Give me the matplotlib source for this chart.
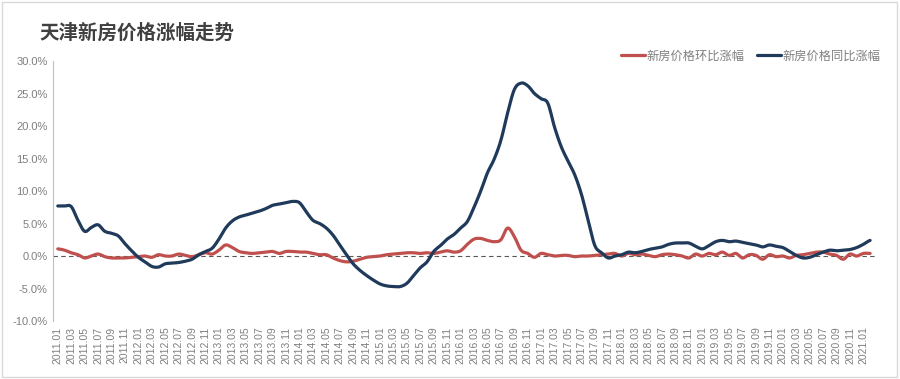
import numpy as np
import pandas as pd
import matplotlib.pyplot as plt
from matplotlib.patches import Rectangle

plt.rcParams['font.family'] = ['Liberation Sans', 'Noto Sans CJK SC', 'DejaVu Sans']

# === 数据 (%) ===
months = [p.strftime('%Y.%m') for p in pd.period_range('2011-01', '2021-02', freq='M')]

yoy = [7.7, 7.7, 7.6, 5.5, 3.8, 4.4, 4.8, 3.8, 3.5, 3.1,
       1.9, 0.8, -0.2, -0.9, -1.6, -1.7, -1.2, -1.1, -1.0, -0.8,
       -0.5, 0.2, 0.7, 1.2, 2.6, 4.3, 5.4, 6.0, 6.3, 6.6,
       6.9, 7.3, 7.8, 8.0, 8.2, 8.4, 8.2, 6.8, 5.5, 5.0,
       4.3, 3.2, 1.7, 0.2, -1.2, -2.2, -3.0, -3.7, -4.3, -4.6,
       -4.7, -4.7, -4.2, -3.0, -1.8, -0.9, 0.7, 1.6, 2.6, 3.3,
       4.3, 5.3, 7.5, 10.0, 12.8, 14.9, 17.8, 22.0, 25.6, 26.6,
       26.2, 25.0, 24.2, 23.5, 19.8, 16.8, 14.6, 12.5, 9.5, 5.5,
       1.6, 0.5, -0.3, 0.0, 0.2, 0.6, 0.5, 0.7, 1.0, 1.2,
       1.4, 1.8, 2.0, 2.0, 2.0, 1.5, 1.1, 1.6, 2.2, 2.4,
       2.2, 2.3, 2.1, 1.9, 1.7, 1.4, 1.7, 1.5, 1.3, 0.7,
       0.1, -0.3, -0.2, 0.2, 0.6, 0.9, 0.8, 0.9, 1.0, 1.3,
       1.8, 2.4]

mom = [1.1, 0.9, 0.5, 0.2, -0.3, 0.0, 0.3, -0.1, -0.3, -0.3,
       -0.3, -0.2, -0.1, 0.0, -0.2, 0.2, 0.0, 0.0, 0.3, 0.1,
       -0.1, 0.2, 0.5, 0.3, 0.9, 1.7, 1.3, 0.7, 0.5, 0.4,
       0.5, 0.6, 0.7, 0.4, 0.7, 0.7, 0.6, 0.6, 0.4, 0.2,
       0.2, -0.3, -0.7, -0.9, -0.8, -0.5, -0.2, -0.1, 0.0, 0.2,
       0.3, 0.4, 0.5, 0.5, 0.4, 0.5, 0.4, 0.6, 0.8, 0.6,
       0.8, 1.8, 2.6, 2.7, 2.4, 2.2, 2.5, 4.3, 3.0, 0.9,
       0.4, -0.2, 0.4, 0.2, 0.0, 0.1, 0.1, -0.1, 0.0, 0.0,
       0.1, 0.2, 0.3, 0.4, 0.0, 0.4, 0.2, 0.3, 0.1, -0.1,
       0.2, 0.3, 0.2, 0.0, -0.3, 0.3, 0.0, 0.4, 0.2, 0.6,
       0.1, 0.4, -0.3, 0.2, 0.1, -0.5, 0.2, -0.1, 0.0, -0.3,
       0.1, 0.2, 0.4, 0.6, 0.6, 0.3, 0.1, -0.5, 0.3, 0.0,
       0.4, 0.4]

title = "天津新房价格涨幅走势"
label_mom = "新房价格环比涨幅"
label_yoy = "新房价格同比涨幅"

red = '#C0504D'
navy = '#1F3A5A'
gray = '#7F7F7F'


# === Excel-agtig udglatning (Catmull-Rom) til tegning ===
def smooth(y, n=8):
    y = np.asarray(y, dtype=float)
    p = np.concatenate([[y[0]], y, [y[-1]]])
    xs, ys = [], []
    t = np.linspace(0, 1, n, endpoint=False)
    for i in range(len(y) - 1):
        p0, p1, p2, p3 = p[i], p[i + 1], p[i + 2], p[i + 3]
        seg = 0.5 * ((2 * p1) + (-p0 + p2) * t + (2 * p0 - 5 * p1 + 4 * p2 - p3) * t ** 2
                     + (-p0 + 3 * p1 - 3 * p2 + p3) * t ** 3)
        xs.append(i + t)
        ys.append(seg)
    xs.append([len(y) - 1])
    ys.append([y[-1]])
    return np.concatenate(xs), np.concatenate(ys)


# === Plot ===
fig = plt.figure(figsize=(9, 3.79), dpi=100)
ax = fig.add_axes([0.059, 0.153, 0.913, 0.686])

x = np.arange(len(months))
ax.axhline(0, color='#595959', lw=0.8, ls=(0, (4, 3)), zorder=1)
xm, ym = smooth(mom)
xy, yy = smooth(yoy)
ax.plot(xm, ym, color=red, lw=2.3, label=label_mom, zorder=2, solid_capstyle='round')
ax.plot(xy, yy, color=navy, lw=2.3, label=label_yoy, zorder=3, solid_capstyle='round')

ax.set_ylim(-10, 30)
ax.set_yticks(np.arange(-10, 31, 5))
ax.set_yticklabels([f"{v:.1f}%" for v in np.arange(-10, 31, 5)], color=gray, fontsize=8)
ax.set_xlim(-0.7, len(months) - 0.3)
ax.set_xticks(x[::2])
ax.set_xticklabels(months[::2], rotation=90, color=gray, fontsize=7.5)
ax.tick_params(length=0, pad=4)

for s in ['top', 'right', 'bottom']:
    ax.spines[s].set_visible(False)
ax.spines['left'].set_color('#BFBFBF')

leg = ax.legend(loc='lower right', bbox_to_anchor=(1.013, 0.975), ncol=2, frameon=False,
                fontsize=8.8, handlelength=2.0, handletextpad=0.1, columnspacing=1.0,
                labelcolor=gray, borderaxespad=0)

fig.text(0.044, 0.913, title, fontsize=14, fontweight='bold', color='#404040',
         family=['Noto Sans CJK SC', 'DejaVu Sans'], va='center')

fig.patches.append(Rectangle((0.002, 0.005), 0.995, 0.99, transform=fig.transFigure,
                             fill=False, edgecolor='#D9D9D9', lw=1))

fig.savefig('out.png', dpi=100)
